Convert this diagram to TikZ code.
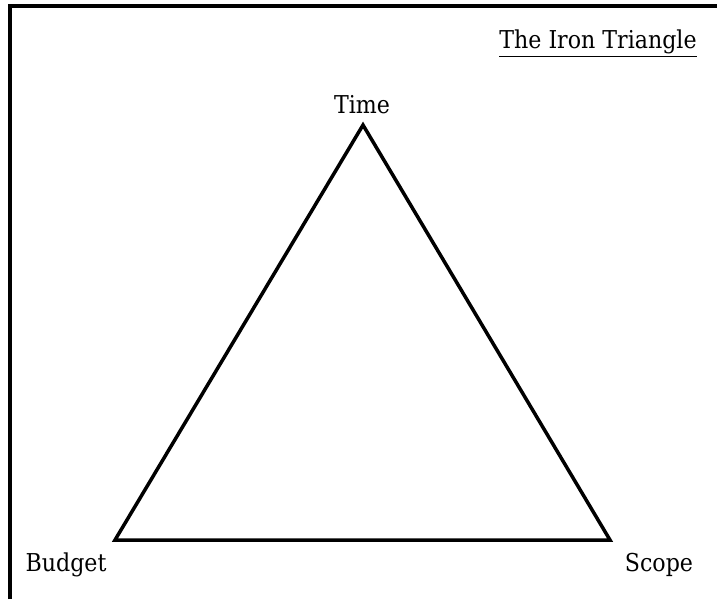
\documentclass[tikz,border=0pt]{standalone}
\usepackage{fontspec}
\setmainfont{DejaVu Serif Condensed}
\usepackage{tikz}

\tikzset{
  side/.style={line width=2pt,line join=miter},
  corner/.style={font=\fontsize{14}{16}\selectfont,inner sep=0pt}
}

\begin{document}
\begin{tikzpicture}[x=0.02cm,y=-0.02cm]
\useasboundingbox (0,0) rectangle (717,599);
% frame
\draw[line width=2pt] (10,599)--(10,6)--(717,6);
% vertices
\coordinate (time) at (363,125);
\coordinate (budget) at (115,540);
\coordinate (scope) at (610,540);
\draw[side] (time)--(scope)--(budget)--cycle;
% labels
\node[corner,anchor=base] (timelbl) at (362,113) {Time};
\node[corner,anchor=base] (budgetlbl) at (66,571) {Budget};
\node[corner,anchor=base] (scopelbl) at (659,571) {Scope};
\node[corner,anchor=base] (title) at (598,48) {\underline{The Iron Triangle}};
\end{tikzpicture}
\end{document}
